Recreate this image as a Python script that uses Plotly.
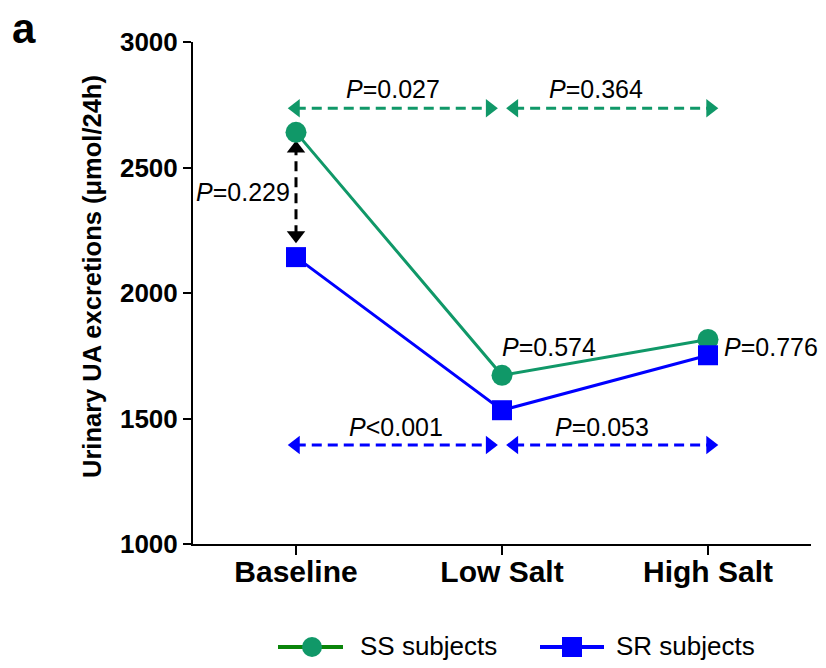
import plotly.graph_objects as go

# ---- data ----
categories = ["Baseline", "Low Salt", "High Salt"]
ss_values = [2640, 1672, 1815]
sr_values = [2143, 1533, 1752]

# significance arrows (x in category index units, y in data units)
ss_arrow_y = 2736
sr_arrow_y = 1394
arrow_spans = [(-0.04, 0.98), (1.02, 2.05)]
base_arrow = (2198, 2608)  # vertical arrow at Baseline (bottom tip, top tip)

p_labels = [
    # (text, x, y)
    ("<i>P</i>=0.027", 0.47, 2812),
    ("<i>P</i>=0.364", 1.455, 2812),
    ("<i>P</i>=0.229", -0.255, 2402),
    ("<i>P</i>=0.574", 1.226, 1783),
    ("<i>P</i>=0.776", 2.306, 1783),
    ("<i>P</i><0.001", 0.484, 1468),
    ("<i>P</i>=0.053", 1.487, 1468),
]

GREEN = "#109868"
GREEN_DARK = "#0a850a"
BLUE = "#0000ff"
FONT = "Arial, Liberation Sans, sans-serif"

# layout geometry (page has an 8px body margin on every side)
PAD = 8
W, H = 826 - 2 * PAD, 668 - 2 * PAD
ML, MT = 193 - PAD, 42 - PAD
MR = W - (811 - PAD)
MB = H - (544 - PAD)
XR = [-0.5, 2.5]
YR = [1000, 3000]
pw = W - ML - MR
ph = H - MT - MB
px_x = pw / (XR[1] - XR[0])
px_y = ph / (YR[1] - YR[0])
HEAD = 16  # arrowhead marker size
off_x = (HEAD / 2) / px_x
off_y = (HEAD / 2) / px_y


def px2paper(px, py):
    """reference-image pixel -> paper coords"""
    return (px - PAD - ML) / pw, (H - MB - (py - PAD)) / ph


xi = list(range(len(categories)))

fig = go.Figure()

# horizontal dashed arrows
for yv, col in [(ss_arrow_y, GREEN), (sr_arrow_y, BLUE)]:
    for (x0, x1) in arrow_spans:
        fig.add_trace(go.Scatter(
            x=[x0 + off_x, x1 - off_x], y=[yv, yv], mode="lines",
            line=dict(color=col, width=3, dash="10px,6px"),
            showlegend=False, hoverinfo="skip"))
        fig.add_trace(go.Scatter(
            x=[x0 + off_x, x1 - off_x], y=[yv, yv], mode="markers",
            marker=dict(symbol=["triangle-left", "triangle-right"], size=HEAD,
                        color=col, line=dict(width=0)),
            showlegend=False, hoverinfo="skip"))

# vertical black arrow at baseline
fig.add_trace(go.Scatter(
    x=[0, 0], y=[base_arrow[0] + off_y, base_arrow[1] - off_y], mode="lines",
    line=dict(color="black", width=3, dash="10px,6px"),
    showlegend=False, hoverinfo="skip"))
fig.add_trace(go.Scatter(
    x=[0, 0], y=[base_arrow[0] + off_y, base_arrow[1] - off_y], mode="markers",
    marker=dict(symbol=["triangle-down", "triangle-up"], size=HEAD,
                color="black", line=dict(width=0)),
    showlegend=False, hoverinfo="skip"))

# data series
fig.add_trace(go.Scatter(
    x=xi, y=ss_values, mode="lines+markers", name="SS subjects",
    line=dict(color=GREEN, width=3),
    marker=dict(symbol="circle", size=21, color=GREEN, line=dict(width=0)),
    showlegend=False))
fig.add_trace(go.Scatter(
    x=xi, y=sr_values, mode="lines+markers", name="SR subjects",
    line=dict(color=BLUE, width=3),
    marker=dict(symbol="square", size=20, color=BLUE, line=dict(width=0)),
    showlegend=False))

# P-value annotations
for txt, x, y in p_labels:
    fig.add_annotation(x=x, y=y, text=txt, showarrow=False,
                       font=dict(family=FONT, size=25, color="black"),
                       xanchor="center", yanchor="middle")

# panel letter
ax_, ay_ = px2paper(10, 28)
fig.add_annotation(x=ax_, y=ay_, xref="paper", yref="paper",
                   text="<b>a</b>", showarrow=False, xanchor="left", yanchor="middle",
                   font=dict(family=FONT, size=42, color="black"))

# y-axis title as annotation
tx, ty = px2paper(92, 277)
fig.add_annotation(x=tx, y=ty, xref="paper", yref="paper",
                   text="<b>Urinary UA excretions (μmol/24h)</b>", textangle=-90,
                   showarrow=False, xanchor="center", yanchor="middle",
                   font=dict(family=FONT, size=25.5, color="black"))

# manual legend
leg_y = 647
for (lx0, lx1, mx, txp, col_line, col_mark, shape, label) in [
    (278, 343, 312, 358, GREEN_DARK, GREEN, "circle", "SS subjects"),
    (540, 604, 572, 614, BLUE, BLUE, "rect", "SR subjects"),
]:
    x0, y0 = px2paper(lx0, leg_y)
    x1, _ = px2paper(lx1, leg_y)
    fig.add_shape(type="line", xref="paper", yref="paper", x0=x0, x1=x1, y0=y0, y1=y0,
                  line=dict(color=col_line, width=4))
    r = 10
    a0, b0 = px2paper(mx - r, leg_y + r)
    a1, b1 = px2paper(mx + r, leg_y - r)
    fig.add_shape(type=shape, xref="paper", yref="paper",
                  x0=a0, x1=a1, y0=b0, y1=b1, fillcolor=col_mark, line=dict(width=0))
    lx, ly = px2paper(txp, leg_y - 1)
    fig.add_annotation(x=lx, y=ly, xref="paper", yref="paper", text=label,
                       showarrow=False, xanchor="left", yanchor="middle",
                       font=dict(family=FONT, size=26, color="black"))

fig.update_layout(
    width=W, height=H,
    margin=dict(l=ML, r=MR, t=MT, b=MB),
    plot_bgcolor="white", paper_bgcolor="white",
    showlegend=False,
    xaxis=dict(
        range=XR, tickmode="array", tickvals=xi, ticktext=categories,
        showgrid=False, zeroline=False, showline=True, linecolor="black", linewidth=2,
        ticks="outside", ticklen=9, tickwidth=2, tickcolor="black",
        ticklabelstandoff=-9,
        tickfont=dict(family=FONT, size=30, color="black", weight="bold"),
    ),
    yaxis=dict(
        range=YR, tickvals=[1000, 1500, 2000, 2500, 3000],
        showgrid=False, zeroline=False, showline=True, linecolor="black", linewidth=2,
        ticks="outside", ticklen=8, tickwidth=2, tickcolor="black",
        tickfont=dict(family=FONT, size=26, color="black", weight="bold"),
    ),
)

fig.write_html("out.html")
